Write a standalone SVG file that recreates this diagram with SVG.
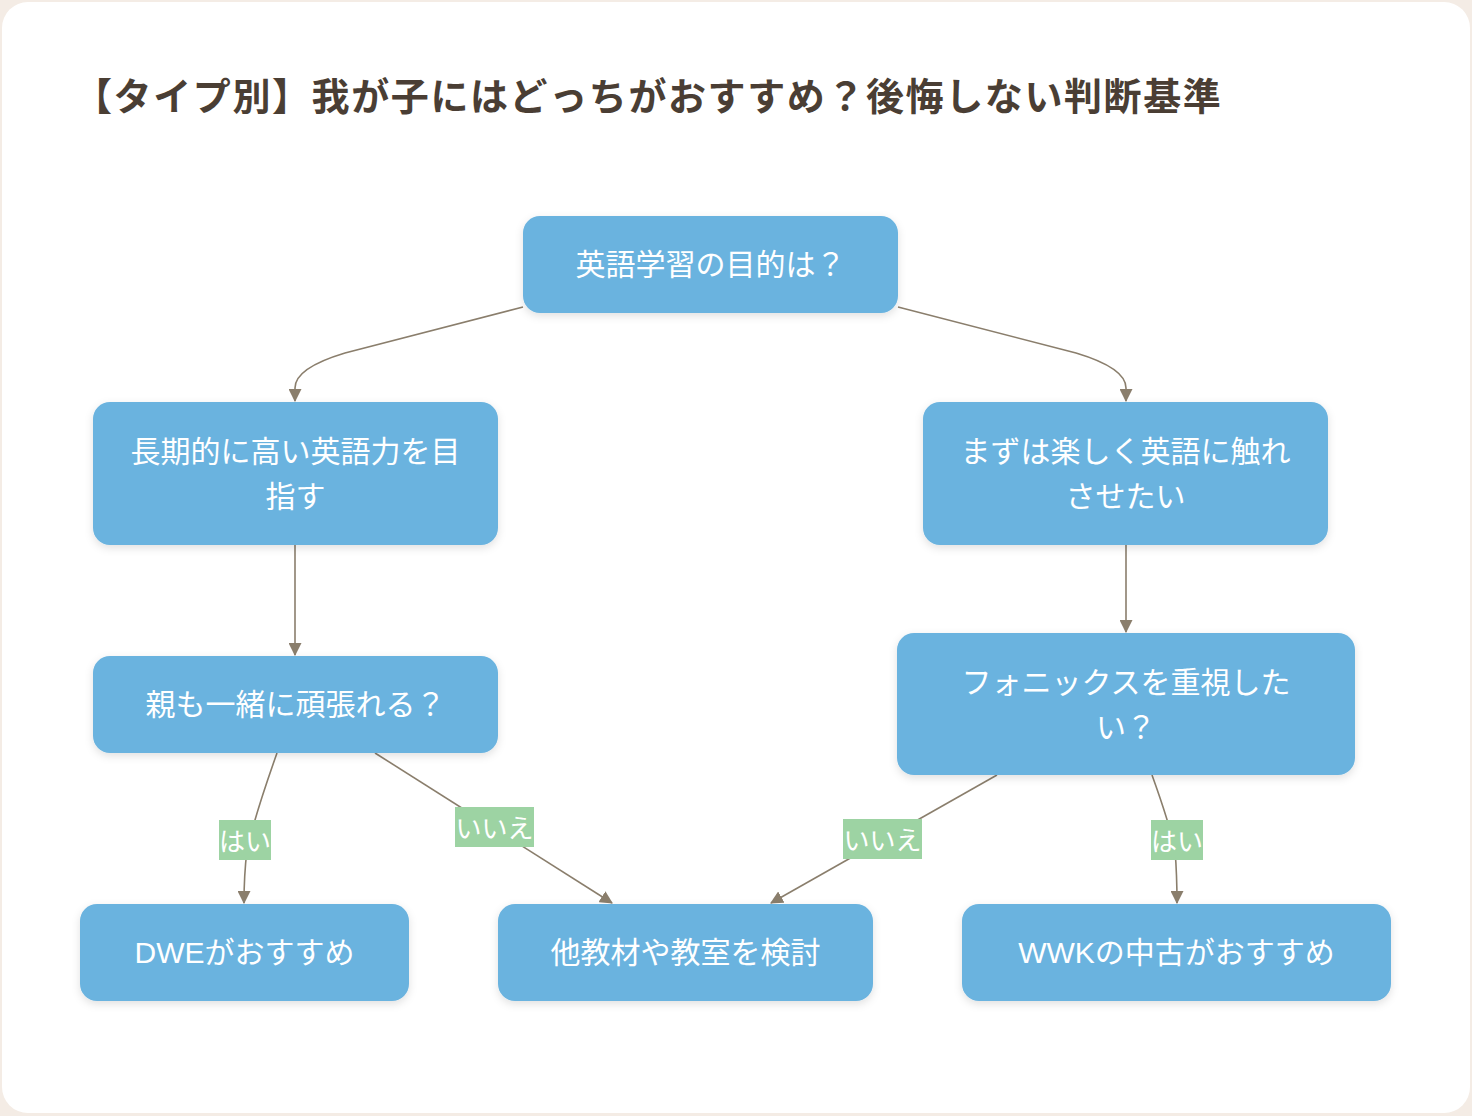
<svg xmlns="http://www.w3.org/2000/svg" width="1472" height="1116" viewBox="0 0 1472 1116">
<defs>
<style>
.node rect{fill:#6bb3df;}
.node text{fill:#ffffff;font-family:"Liberation Sans","Noto Sans CJK JP",sans-serif;font-size:30px;text-anchor:middle;dominant-baseline:central;}
.edge{fill:none;stroke:#8a7e6c;stroke-width:1.6;}
.lbl rect{fill:#9dd3a3;}
.lbl text{fill:#ffffff;font-family:"Noto Sans CJK JP","Noto Sans",sans-serif;font-size:26px;text-anchor:middle;dominant-baseline:central;}
.title{fill:#4a3e34;font-family:"Noto Sans CJK JP","Noto Sans",sans-serif;font-size:38px;font-weight:bold;letter-spacing:1.6px;}
</style>
<marker id="arr" viewBox="0 0 12 12" refX="11" refY="6" markerWidth="13" markerHeight="13" markerUnits="userSpaceOnUse" orient="auto">
<path d="M0,0 L12,6 L0,12 Z" fill="#8a7e6c"/>
</marker>
<filter id="sh" x="-10%" y="-20%" width="120%" height="150%">
<feDropShadow dx="0" dy="3" stdDeviation="4" flood-color="#000" flood-opacity="0.12"/>
</filter>
</defs>
<rect x="0" y="0" width="1472" height="1116" fill="#f4ece5"/>
<rect x="2" y="2" width="1468" height="1111" rx="26" fill="#ffffff"/>
<text class="title" x="74" y="110">【タイプ別】我が子にはどっちがおすすめ？後悔しない判断基準</text>

<g id="connectors">
<path class="edge" d="M523,307 L345,353 Q295,368 295,388 L295,401" marker-end="url(#arr)"/>
<path class="edge" d="M898,307 L1076,353 Q1126,368 1126,388 L1126,401" marker-end="url(#arr)"/>
<path class="edge" d="M295,545 L295,655" marker-end="url(#arr)"/>
<path class="edge" d="M1126,545 L1126,632" marker-end="url(#arr)"/>
<path class="edge" d="M277,753 Q255,815 247,850 Q244,875 244,903" marker-end="url(#arr)"/>
<path class="edge" d="M375,753 L612,903" marker-end="url(#arr)"/>
<path class="edge" d="M997,775 L771,903" marker-end="url(#arr)"/>
<path class="edge" d="M1152,775 Q1170,825 1175,850 Q1177,875 1177,903" marker-end="url(#arr)"/>
<g class="lbl"><rect x="219" y="820" width="52" height="40"/><text x="245" y="839">はい</text></g>
<g class="lbl"><rect x="455" y="807" width="79" height="40"/><text x="494.5" y="826">いいえ</text></g>
<g class="lbl"><rect x="843" y="819" width="79" height="40"/><text x="882.5" y="838">いいえ</text></g>
<g class="lbl"><rect x="1151" y="820" width="52" height="40"/><text x="1177" y="839">はい</text></g>
</g>

<g id="n1" class="node"><rect x="523" y="216" width="375" height="97" rx="17" filter="url(#sh)"/><text x="710.5" y="264.5">英語学習の目的は？</text></g>
<g id="n2" class="node"><rect x="93" y="402" width="405" height="143" rx="17" filter="url(#sh)"/><text x="295.5" y="451">長期的に高い英語力を目</text><text x="295.5" y="496">指す</text></g>
<g id="n3" class="node"><rect x="923" y="402" width="405" height="143" rx="17" filter="url(#sh)"/><text x="1125.5" y="451">まずは楽しく英語に触れ</text><text x="1125.5" y="496">させたい</text></g>
<g id="n4" class="node"><rect x="93" y="656" width="405" height="97" rx="17" filter="url(#sh)"/><text x="295.5" y="704.5">親も一緒に頑張れる？</text></g>
<g id="n5" class="node"><rect x="897" y="633" width="458" height="142" rx="17" filter="url(#sh)"/><text x="1126" y="682">フォニックスを重視した</text><text x="1126" y="727">い？</text></g>
<g id="n6" class="node"><rect x="80" y="904" width="329" height="97" rx="17" filter="url(#sh)"/><text x="244.5" y="952.5">DWEがおすすめ</text></g>
<g id="n7" class="node"><rect x="498" y="904" width="375" height="97" rx="17" filter="url(#sh)"/><text x="685.5" y="952.5">他教材や教室を検討</text></g>
<g id="n8" class="node"><rect x="962" y="904" width="429" height="97" rx="17" filter="url(#sh)"/><text x="1176.5" y="952.5">WWKの中古がおすすめ</text></g>
</svg>
